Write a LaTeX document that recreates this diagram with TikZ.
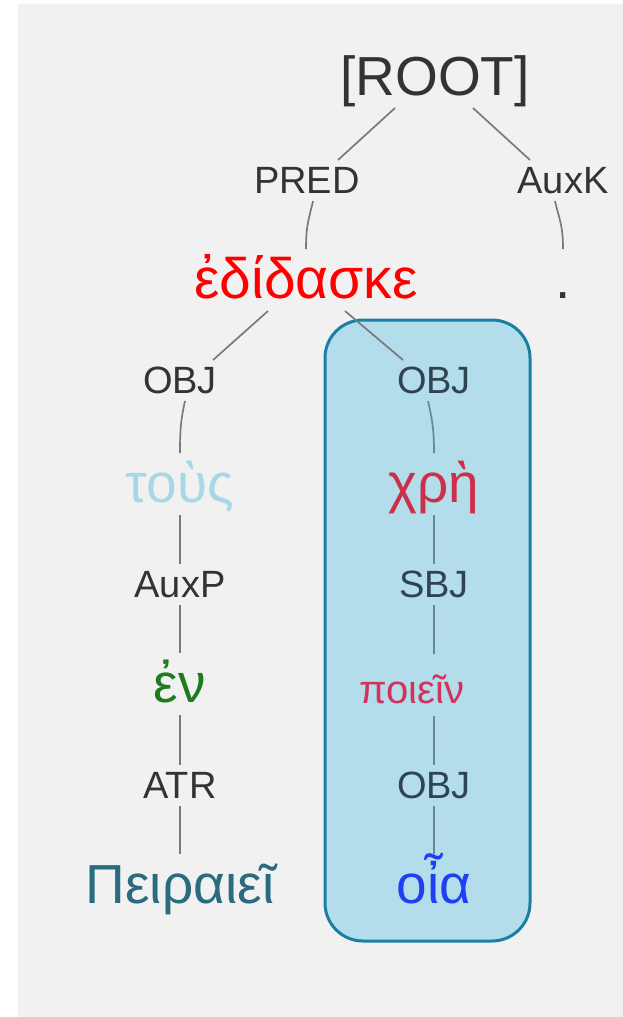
\documentclass[tikz,border=0pt]{standalone}
\usepackage{fontspec}
\setmainfont{Liberation Sans}
\definecolor{bgc}{HTML}{F1F1F1}
\definecolor{boxfill}{HTML}{B3DDEB}
\definecolor{boxc}{HTML}{1A7FA5}
\definecolor{labelc}{HTML}{333333}
\definecolor{labelin}{HTML}{2F4450}
\definecolor{edgec}{HTML}{7A7A7A}
\definecolor{edgein}{HTML}{6A8794}
\definecolor{redw}{HTML}{FF0000}
\definecolor{tousc}{HTML}{A8D8E8}
\definecolor{enc}{HTML}{1E7B1E}
\definecolor{peirc}{HTML}{2B6B80}
\definecolor{chric}{HTML}{CC2F47}
\definecolor{poieinc}{HTML}{D0345A}
\definecolor{oiac}{HTML}{1F3FF5}
\begin{document}
\begin{tikzpicture}[x=1pt,y=-1pt,
  lbl/.style={font=\fontsize{38}{38}\selectfont, text=labelc, inner sep=0pt, outer sep=0pt, text height=33pt, text depth=8pt, anchor=base},
  lblin/.style={lbl, text=labelin},
  wrd/.style={font=\fontsize{55}{55}\selectfont, inner sep=0pt, outer sep=0pt, text height=49pt, text depth=13pt, anchor=base},
  edge/.style={draw=edgec, line width=1.7pt},
  edgeb/.style={draw=edgein, line width=1.7pt},
]
\useasboundingbox (0,0) rectangle (623,1017);
\fill[bgc] (18,4) rectangle (623,1017);
\draw[boxc, fill=boxfill, line width=3pt, rounded corners=38pt] (325,320) rectangle (530,941);

% nodes
\node[wrd, text=labelc, text height=42pt] (root) at (435,95) {[ROOT]};
\node[lbl] (pred) at (307,193) {PRED};
\node[lbl] (auxk) at (563,193) {AuxK};
\node[wrd, text=redw, font=\fontsize{57}{57}\selectfont] (edid) at (306,298) {ἐδίδασκε};
\node[wrd, text=labelc] (dot) at (563,298) {.};
\node[lbl] (objl) at (180,393) {OBJ};
\node[lblin] (objr) at (434,393) {OBJ};
\node[wrd, text=tousc] (tous) at (180,502) {τοὺς};
\node[wrd, text=chric] (chri) at (434,502) {χρὴ};
\node[lbl] (auxp) at (180,597) {AuxP};
\node[lblin] (sbj) at (434,597) {SBJ};
\node[wrd, text=enc] (en) at (180,702) {ἐν};
\node[wrd, text=poieinc, font=\fontsize{40}{40}\selectfont] (poiein) at (412,703) {ποιεῖν};
\node[lbl] (atr) at (180,798) {ATR};
\node[lblin] (objc) at (434,798) {OBJ};
\node[wrd, text=peirc] (peir) at (180,903) {Πειραιεῖ};
\node[wrd, text=oiac] (oia) at (434,903) {οἶα};

% connectors
\draw[edge] ([xshift=-40pt]root.south) -- ([xshift=31pt]pred.north);
\draw[edge] ([xshift=38pt]root.south) -- ([xshift=-33pt]auxk.north);
\draw[edge] ([xshift=6pt]pred.south) .. controls +(-4,18) and +(0,-25) .. (edid.north);
\draw[edge] ([xshift=-8pt]auxk.south) .. controls +(4,18) and +(0,-25) .. (dot.north);
\draw[edge] ([xshift=-38pt]edid.south) -- ([xshift=33pt]objl.north);
\draw[edge] ([xshift=39pt]edid.south) -- ([xshift=-31pt]objr.north);
\draw[edge] ([xshift=5pt]objl.south) .. controls +(-4,18) and +(0,-25) .. (tous.north);
\draw[edgeb] ([xshift=-6pt]objr.south) .. controls +(4,18) and +(0,-25) .. (chri.north);
\draw[edge] (tous.south) -- (auxp.north);
\draw[edge] (auxp.south) -- (en.north);
\draw[edge] (en.south) -- (atr.north);
\draw[edge] (atr.south) -- (peir.north);
\draw[edgeb] (chri.south) -- (sbj.north);
\draw[edgeb] (sbj.south) -- (sbj.south |- poiein.north);
\draw[edgeb] (objc.north |- poiein.south) -- (objc.north);
\draw[edgeb] (objc.south) -- (oia.north);
\end{tikzpicture}
\end{document}
